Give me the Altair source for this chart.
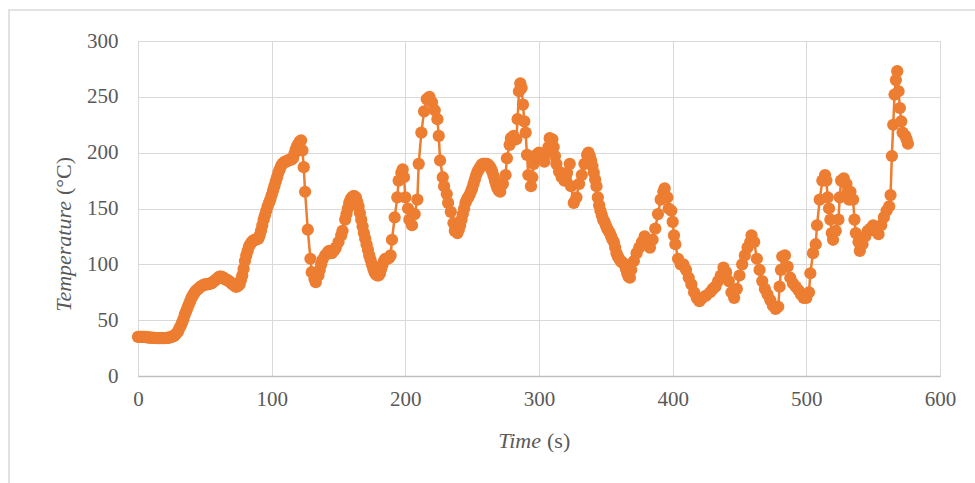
import altair as alt
import pandas as pd

# --- data (time in s, temperature in °C) ---
time_a = list(range(0, 123))
temp_a = [35, 35, 35, 35, 35, 35, 34.8, 34.6, 34.5, 34.4, 34.3, 34.2, 34.2, 34.1, 34, 34, 34, 34, 34, 34,
          34, 34.1, 34.2, 34.4, 34.6, 35, 35.5, 36, 37, 38.5, 40,
          43, 45, 48, 51, 55, 58, 61, 64, 67, 70,
          72, 74, 76, 77, 78, 79, 80, 81, 81.5, 82,
          82, 82, 82.5, 83, 83, 84, 85, 86, 87, 88,
          89, 89, 88.5, 88, 87, 86, 86, 85, 84, 83,
          82, 81, 80, 80, 81, 82, 86, 90, 96, 103,
          108, 112, 116, 118, 120, 121, 122, 122, 122.5, 123,
          126, 130, 135, 140, 144, 148, 152, 155, 158, 162,
          166, 170, 174, 178, 182, 185, 188, 190, 191, 192,
          192, 193, 193, 194, 194, 195, 199, 203, 206, 208,
          210, 211]

time_b = [123, 124, 125, 127, 129, 130, 132, 133, 135, 136, 137, 138, 140, 142, 143, 145, 147, 148, 150,
          152, 153, 155, 156, 157, 158, 159, 160, 161, 162, 163, 164, 165, 166, 167, 168, 169, 170, 171,
          172, 173, 174, 175, 176, 177, 178, 179, 180, 181, 182, 183, 184, 185, 186, 187, 188, 189,
          190, 192, 194, 195, 197, 198, 199, 200, 202, 203, 205, 207, 209, 210, 212, 214, 216, 218,
          220, 222, 224, 225, 226, 228, 229, 231, 232, 234, 236, 237]
temp_b = [202, 187, 165, 131, 105, 93, 87, 84, 90, 95, 100, 104, 108, 111, 112, 110, 113, 115, 120,
          126, 130, 140, 145, 150, 155, 158, 160, 161, 161, 160, 156, 152, 146, 140, 134, 128, 123, 118,
          113, 108, 104, 100, 96, 93, 91, 90, 90, 92, 96, 100, 103, 105, 105, 105, 106, 108,
          122, 142, 160, 175, 182, 185, 178, 160, 150, 140, 135, 145, 158, 190, 218, 237, 248, 250,
          245, 238, 230, 215, 193, 178, 170, 163, 155, 147, 137, 130]

time_c = list(range(239, 272))
temp_c_ = [128, 131, 135, 140, 145, 150, 155, 158, 160, 162, 165, 168, 172, 176, 180, 183, 185, 187, 189,
           190, 190, 190, 190, 189, 188, 186, 183, 179, 175, 171, 168, 166, 165]

time_d = [273, 275, 276, 278, 279, 281, 283, 284, 285, 286, 287, 288, 289, 290, 291, 292, 294, 295, 296,
          298, 300, 302, 304, 305, 307, 308, 310, 311, 312, 313, 315, 317, 319, 321, 323, 324, 326, 328,
          330, 332, 334, 336]
temp_d = [172, 180, 195, 207, 213, 215, 212, 230, 255, 262, 258, 243, 228, 218, 198, 180, 170, 178, 190,
          198, 200, 195, 192, 200, 205, 213, 212, 205, 197, 190, 183, 178, 175, 182, 190, 170, 155, 160,
          172, 180, 190, 198]

time_e = list(range(337, 370))
temp_e = [200, 197, 193, 188, 182, 176, 170, 160, 153, 148, 144, 140, 138, 135, 132, 130, 128, 125, 122,
          120, 115, 110, 107, 105, 103, 102, 101, 100, 96, 92, 89, 88, 95]

time_f = [371, 373, 375, 377, 379, 381, 383, 385, 387, 389, 391, 393, 394, 396, 397, 399, 400, 401, 402,
          404, 406, 408, 410, 412, 414, 416, 418, 420, 422, 425, 428, 430, 432, 434, 436, 438, 440, 442,
          444, 446, 448, 450, 452, 454, 456, 458, 459, 461, 463, 465, 467, 469, 471, 473, 475, 477, 479,
          480, 481, 482, 484, 486, 488, 490, 492, 494, 496, 498, 500, 502, 503, 505, 507, 508, 510, 512,
          514, 515, 516, 517, 518, 519, 520, 522, 524, 525, 526, 528, 530, 531, 532, 533, 535, 536, 537,
          539, 540, 542, 544, 546, 548, 550, 552, 554, 556, 558, 560, 562, 563, 564, 565, 566, 567, 568,
          569, 570, 571, 572, 574, 575, 576]
temp_f = [103, 110, 115, 120, 125, 120, 115, 122, 132, 145, 158, 165, 168, 160, 150, 148, 138, 126, 118,
          105, 100, 100, 95, 88, 82, 75, 70, 67, 70, 72, 75, 78, 80, 85, 90, 97, 93, 85,
          75, 70, 78, 90, 100, 108, 115, 120, 126, 120, 105, 95, 85, 78, 73, 68, 63, 60, 62,
          80, 95, 107, 108, 98, 88, 83, 80, 77, 73, 70, 70, 75, 92, 110, 118, 135, 158, 175,
          180, 175, 160, 150, 140, 128, 122, 130, 140, 160, 175, 177, 172, 165, 158, 165, 158, 140, 128,
          120, 112, 118, 125, 130, 132, 135, 130, 127, 135, 142, 148, 152, 162, 197, 225, 252, 265, 273,
          255, 240, 228, 218, 215, 212, 208]

time_s = time_a + time_b + time_c + time_d + time_e + time_f
temp_c = temp_a + temp_b + temp_c_ + temp_d + temp_e + temp_f

x_ticks = [0, 100, 200, 300, 400, 500, 600]
y_ticks = [0, 50, 100, 150, 200, 250, 300]

df = pd.DataFrame({"t": time_s, "T": temp_c})

ORANGE = "#ED7D31"
FONT = "Liberation Serif"
TXT = "#595959"
W, H = 802, 335

x_enc = alt.X("t:Q", scale=alt.Scale(domain=[0, 600], nice=False),
              axis=alt.Axis(values=x_ticks, title=None, grid=True, gridColor="#d9d9d9",
                            ticks=False, domainColor="#bfbfbf", domainWidth=1.5,
                            labelFont=FONT, labelFontSize=21, labelColor=TXT,
                            labelFlush=False, labelPadding=12))
y_enc = alt.Y("T:Q", scale=alt.Scale(domain=[0, 300], nice=False),
              axis=alt.Axis(values=y_ticks, title=None, grid=True, gridColor="#d9d9d9",
                            ticks=False, domain=False,
                            labelFont=FONT, labelFontSize=21, labelColor=TXT,
                            labelFlush=False, labelPadding=20))

line = alt.Chart(df).mark_line(color=ORANGE, strokeWidth=2.5).encode(x=x_enc, y=y_enc, order="t:Q")
pts = alt.Chart(df).mark_circle(color=ORANGE, size=150, opacity=1).encode(x="t:Q", y="T:Q")

lbl = pd.DataFrame({"a": [0]})
xt1 = alt.Chart(lbl).mark_text(text="Time", font=FONT, fontSize=22, fontStyle="italic",
                               align="right", baseline="alphabetic", color=TXT).encode(
    x=alt.value(403), y=alt.value(407))
xt2 = alt.Chart(lbl).mark_text(text="(s)", font=FONT, fontSize=22,
                               align="left", baseline="alphabetic", color=TXT).encode(
    x=alt.value(409), y=alt.value(407))
yt1 = alt.Chart(lbl).mark_text(text="Temperature", font=FONT, fontSize=22, fontStyle="italic",
                               align="right", baseline="middle", angle=270, color=TXT).encode(
    x=alt.value(-74), y=alt.value(160))
yt2 = alt.Chart(lbl).mark_text(text="(°C)", font=FONT, fontSize=22,
                               align="left", baseline="middle", angle=270, color=TXT).encode(
    x=alt.value(-74), y=alt.value(154))
border = alt.Chart(lbl).mark_rect(fill=None, stroke="#d9d9d9", strokeWidth=1.5).encode(
    x=alt.value(-129), y=alt.value(-31), x2=alt.value(W + 60), y2=alt.value(H + 130))

chart = alt.layer(border, line, pts, xt1, xt2, yt1, yt2).properties(
    width=W, height=H,
    autosize=alt.AutoSizeParams(type="none"),
    padding={"left": 138, "top": 41, "right": 35, "bottom": 107},
).configure_view(stroke=None).configure(background="white")

chart.save("out.html", embed_options={"renderer": "svg", "actions": False})
